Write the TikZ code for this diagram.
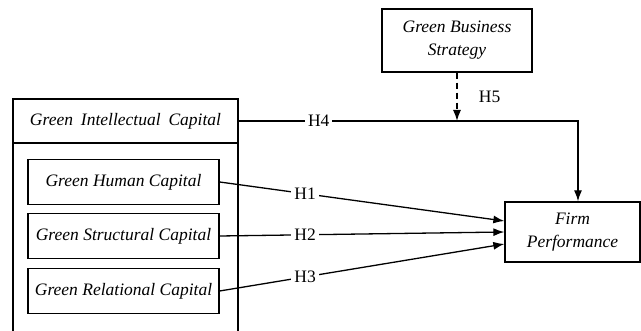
\documentclass[tikz,border=0pt]{standalone}
\usepackage{fontspec}
\setmainfont{Liberation Serif}
\usepackage{tikz}
\usetikzlibrary{arrows.meta}
\usepackage{xcolor}

\begin{document}
\begin{tikzpicture}[x=1pt, y=-1pt, >={Latex[length=11pt, width=8pt]}, line width=1.3pt,
        var/.style={draw, rectangle, align=center, inner sep=0pt, font=\fontsize{17.5}{23}\selectfont\itshape},
        hyp/.style={fill=white, inner sep=3pt, font=\fontsize{17.5}{20}\selectfont}]
        \clip (0,0) rectangle (641,331);
        % outer block
        \draw (13,340) -- (13,99) -- (238,99) -- (238,340);
        \node[var, minimum width=225, minimum height=44] (gic) at (125.5,121) {Green\hspace{0.2em} Intellectual\hspace{0.2em} Capital};
        \node[var, minimum width=191, minimum height=45] (ghc) at (123.5,182) {Green Human Capital};
        \node[var, minimum width=191, minimum height=45] (gsc) at (123.5,236) {Green Structural Capital};
        \node[var, minimum width=191, minimum height=45] (grc) at (123.5,291) {Green Relational Capital};
        \node[var, minimum width=150, minimum height=63] (gbs) at (457,40.5) {Green Business\\Strategy};
        \node[var, minimum width=135, minimum height=60] (fp) at (572.5,232) {Firm\\Performance};
        \coordinate (mod) at (gbs.south |- gic.east);

        \draw[->] (gic.east) -| node[hyp, pos=0.118] {H4} ([xshift=5.5pt]fp.north);
        \draw[->, dash pattern=on 6pt off 4pt] (gbs) -- node[midway, right=18pt, font=\fontsize{17.5}{20}\selectfont] {H5} (mod);
        \foreach \v/\h/\s in {ghc/H1/11pt, gsc/H2/0pt, grc/H3/-12pt}
            \draw[->] (\v.east) -- node[hyp, pos=0.3] {\h} ([yshift=\s]fp.west);
\end{tikzpicture}
\end{document}
